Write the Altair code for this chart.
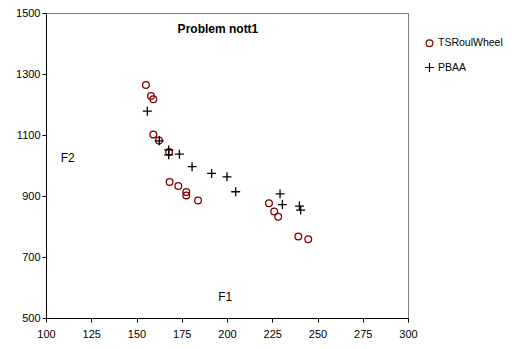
import altair as alt
import pandas as pd

ts_x = [155.2, 158.0, 159.3, 159.3, 162.4, 168.0, 168.3, 173.1, 177.5, 177.5, 184.0, 223.2, 226.1, 228.3, 239.4, 244.9]
ts_y = [1264, 1228, 1217, 1102, 1082, 1044, 946, 933, 913, 902, 885, 876, 849, 832, 767, 758]
pb_x = [156.0, 162.6, 167.8, 167.8, 173.7, 180.7, 191.5, 200.0, 204.8, 229.3, 230.6, 240.0, 240.7]
pb_y = [1178, 1081, 1051, 1035, 1037, 996, 974, 963, 914, 907, 872, 867, 854]

series = ["TSRoulWheel", "PBAA"]
x_ticks = [100, 125, 150, 175, 200, 225, 250, 275, 300]
y_ticks = [500, 700, 900, 1100, 1300, 1500]

df = pd.DataFrame(
    {"F1": ts_x + pb_x, "F2": ts_y + pb_y,
     "series": [series[0]] * len(ts_x) + [series[1]] * len(pb_x)}
)

labels = pd.DataFrame({"x": [195, 112, 199], "y": [1447, 1025, 569],
                       "t": ["Problem nott1", "F2", "F1"], "w": ["bold", "normal", "normal"]})

xs = alt.Scale(domain=[100, 300], nice=False)
ys = alt.Scale(domain=[500, 1500], nice=False)

pts = alt.Chart(df).mark_point(filled=False, strokeWidth=1.3, opacity=1).encode(
    x=alt.X("F1:Q", scale=xs, axis=alt.Axis(values=x_ticks, title=None, format="d")),
    y=alt.Y("F2:Q", scale=ys, axis=alt.Axis(values=y_ticks, title=None, format="d")),
    color=alt.Color("series:N", scale=alt.Scale(domain=series, range=["#800000", "#000000"]),
                    legend=alt.Legend(title=None, orient="none", legendX=378, legendY=25,
                                      labelFontSize=10.5, labelFont="Liberation Sans",
                                      labelOffset=3, rowPadding=10, symbolStrokeWidth=1.2,
                                      labelLimit=0)),
    shape=alt.Shape("series:N", scale=alt.Scale(domain=series, range=["circle", "M-1,0L1,0M0,-1L0,1"])),
    size=alt.Size("series:N", scale=alt.Scale(domain=series, range=[45, 80]), legend=None),
)

txt_b = alt.Chart(labels[labels.w == "bold"]).mark_text(fontWeight="bold", fontSize=12, font="Liberation Sans", color="black").encode(
    x=alt.X("x:Q", scale=xs), y=alt.Y("y:Q", scale=ys), text="t:N")
txt_n = alt.Chart(labels[labels.w == "normal"]).mark_text(fontSize=12, font="Liberation Sans", color="black").encode(
    x=alt.X("x:Q", scale=xs), y=alt.Y("y:Q", scale=ys), text="t:N")

chart = alt.layer(pts, txt_b, txt_n).properties(
    width=362, height=305,
    autosize=alt.AutoSizeParams(type="none"),
    padding={"left": 38, "top": 5, "right": 96, "bottom": 20},
).configure_view(stroke="#808080", strokeWidth=1).configure_axis(
    grid=False, domainColor="black", tickColor="black", labelColor="black",
    labelFont="Liberation Sans", labelFontSize=11, tickSize=4, domainWidth=1,
    labelFlush=False,
).configure_axisX(labelPadding=6).configure_axisY(labelPadding=2)

chart.save("out.html", embed_options={"renderer": "svg", "actions": False})
